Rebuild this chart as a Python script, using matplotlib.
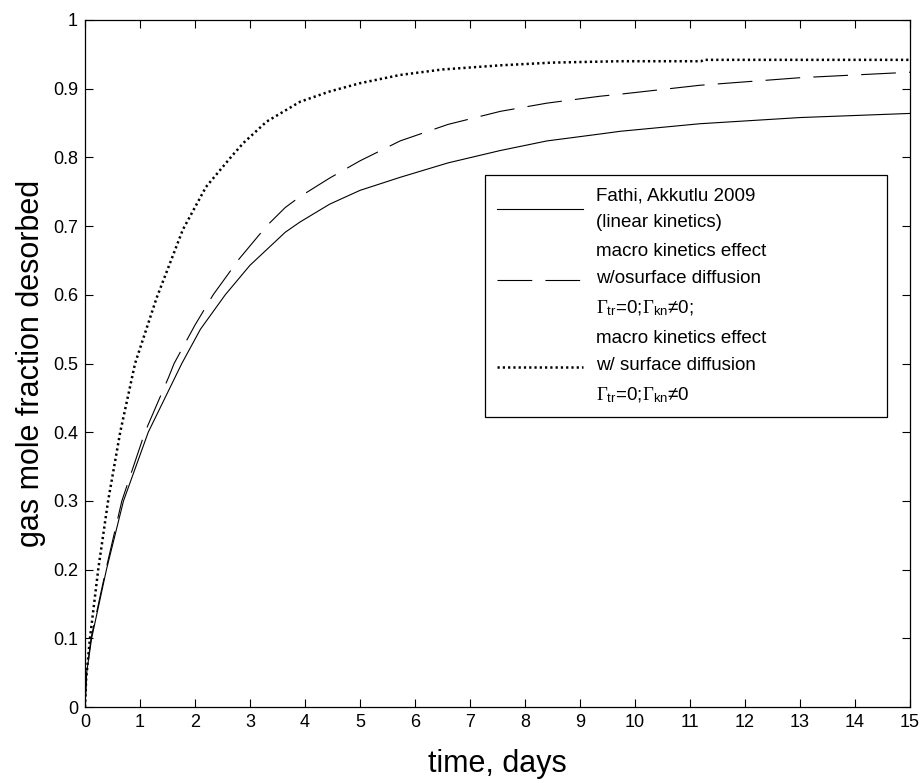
import matplotlib
matplotlib.use("Agg")
import matplotlib.pyplot as plt

plt.rcParams['font.family'] = ['Liberation Sans', 'DejaVu Sans']
plt.rcParams['mathtext.fontset'] = 'custom'
plt.rcParams['mathtext.rm'] = 'Liberation Serif'
plt.rcParams['mathtext.sf'] = 'Liberation Sans'
plt.rcParams['mathtext.it'] = 'Liberation Serif:italic'
plt.rcParams['lines.scale_dashes'] = False

# ---- data ----
t_lin = [0, 0.03, 0.12, 0.39, 0.70, 1.15, 1.76, 2.1, 2.55, 3.0, 3.64, 3.91, 4.45,
         5.0, 5.73, 6.6, 7.55, 8.4, 9.36, 9.73, 11.18, 13, 15]
y_lin = [0, 0.05, 0.10, 0.20, 0.30, 0.40, 0.50, 0.55, 0.60, 0.643, 0.691, 0.706, 0.732,
         0.752, 0.771, 0.792, 0.810, 0.824, 0.834, 0.838, 0.849, 0.858, 0.864]

t_wo = [0, 0.03, 0.11, 0.38, 0.67, 1.09, 1.52, 1.62, 2.0, 2.33, 2.8, 3.30, 3.64, 3.91,
        4.45, 5.0, 5.73, 6.6, 7.55, 8.4, 9.36, 9.73, 11.18, 13, 15]
y_wo = [0, 0.05, 0.10, 0.20, 0.30, 0.40, 0.48, 0.50, 0.556, 0.60, 0.652, 0.70, 0.727, 0.743,
        0.770, 0.795, 0.824, 0.848, 0.867, 0.879, 0.889, 0.892, 0.905, 0.916, 0.924]

t_w = [0, 0.02, 0.09, 0.24, 0.42, 0.64, 0.91, 1.30, 1.78, 2.2, 2.67, 2.88, 3.3, 3.91,
       4.45, 5.0, 5.73, 6.5, 7.55, 8.5, 9.73, 11.2, 11.25, 13, 15]
y_w = [0, 0.04, 0.10, 0.20, 0.30, 0.40, 0.50, 0.595, 0.695, 0.757, 0.802, 0.821, 0.852, 0.881,
       0.896, 0.908, 0.920, 0.928, 0.934, 0.938, 0.940, 0.940, 0.942, 0.942, 0.942]

labels = [
    "Fathi, Akkutlu 2009\n(linear kinetics)",
    "macro kinetics effect\nw/osurface diffusion\n$\\Gamma_{\\mathsf{tr}}$=0;$\\Gamma_{\\mathsf{kn}}$\u22600;",
    "macro kinetics effect\nw/ surface diffusion\n$\\Gamma_{\\mathsf{tr}}$=0;$\\Gamma_{\\mathsf{kn}}$\u22600",
]
x_ticks = list(range(0, 16))
y_ticks = [0, 0.1, 0.2, 0.3, 0.4, 0.5, 0.6, 0.7, 0.8, 0.9, 1]
y_ticklabels = ["0", "0.1", "0.2", "0.3", "0.4", "0.5", "0.6", "0.7", "0.8", "0.9", "1"]

fig = plt.figure(figsize=(9.24, 7.83), dpi=100)
ax = fig.add_axes([85 / 924, 76 / 783, 825 / 924, 687 / 783])

ax.plot(t_lin, y_lin, color='black', lw=0.8, label=labels[0])
ax.plot(t_wo, y_wo, color='black', lw=0.8, linestyle=(0, (25, 9.5)), label=labels[1])
ax.plot(t_w, y_w, color='black', lw=1.8, linestyle=(0, (1.6, 2.2)),
        dash_capstyle='butt', label=labels[2])

ax.set_xlim(0, 15)
ax.set_ylim(0, 1)
ax.set_xticks(x_ticks)
ax.set_yticks(y_ticks)
ax.set_yticklabels(y_ticklabels)
ax.tick_params(direction='in', top=True, right=True, length=6, width=0.8,
               labelsize=13, pad=5)
for s in ax.spines.values():
    s.set_linewidth(0.9)

ax.set_xlabel("time, days", fontsize=22, labelpad=13)
ax.set_ylabel("gas mole fraction desorbed", fontsize=22, labelpad=5)

leg = ax.legend(loc='upper left', bbox_to_anchor=(0.485, 0.774, 0.487, 0.0),
                mode='expand', borderaxespad=0, fancybox=False, framealpha=1,
                edgecolor='black', fontsize=13.5, handlelength=4.6,
                handletextpad=0.7, borderpad=0.63, labelspacing=0.6)
leg.get_frame().set_linewidth(0.9)
for txt in leg.get_texts():
    txt.set_linespacing(1.8)

fig.savefig("out.png", dpi=100, facecolor='white')
